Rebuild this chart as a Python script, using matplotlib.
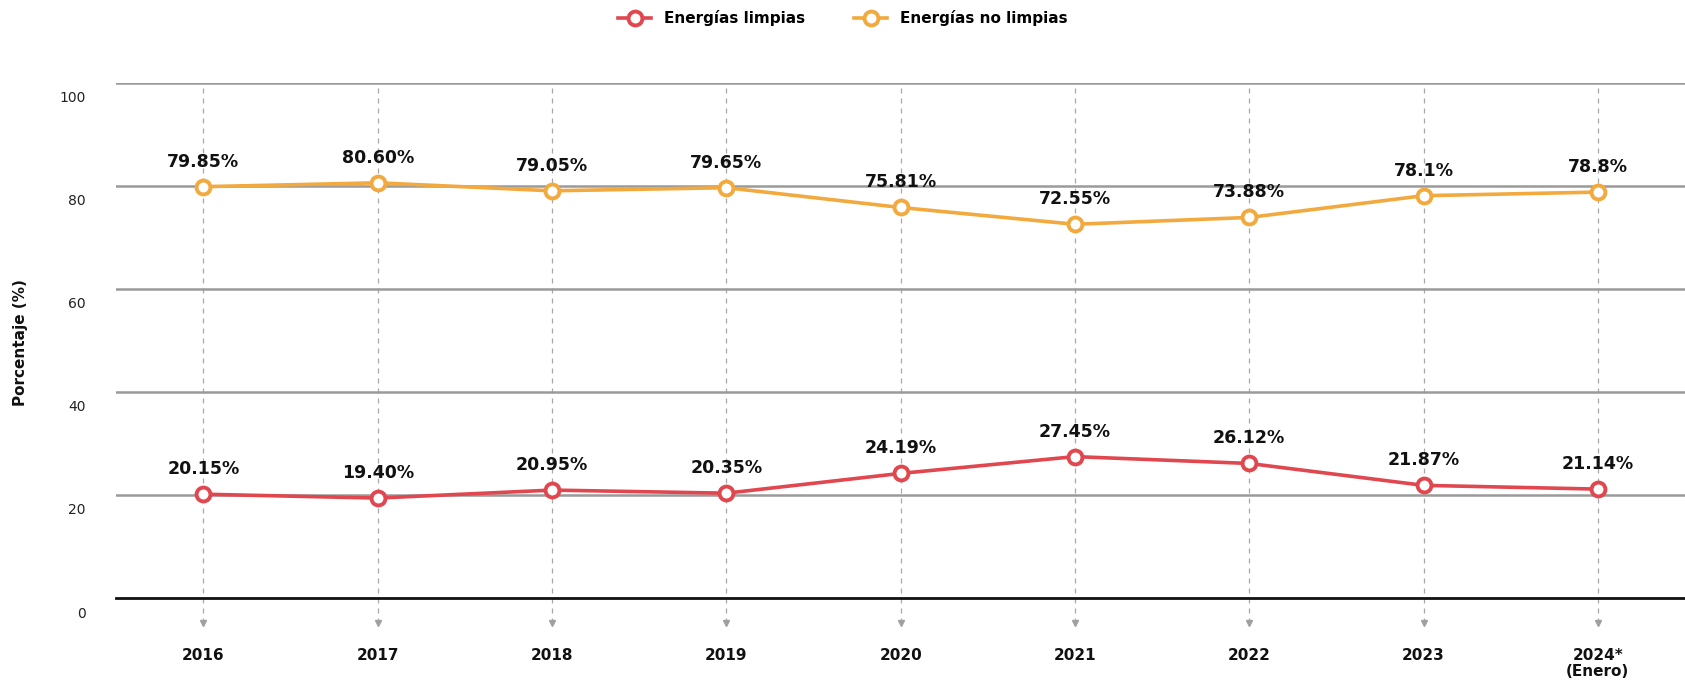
import numpy as np
import matplotlib
matplotlib.use("Agg")
import matplotlib.pyplot as plt
from matplotlib.transforms import ScaledTranslation

# datos
anios = ["2016", "2017", "2018", "2019", "2020", "2021", "2022", "2023", "2024*\n(Enero)"]
limpias = [20.15, 19.40, 20.95, 20.35, 24.19, 27.45, 26.12, 21.87, 21.14]
no_limpias = [79.85, 80.60, 79.05, 79.65, 75.81, 72.55, 73.88, 78.1, 78.8]
etiq_limpias = ["20.15%", "19.40%", "20.95%", "20.35%", "24.19%", "27.45%", "26.12%", "21.87%", "21.14%"]
etiq_no_limpias = ["79.85%", "80.60%", "79.05%", "79.65%", "75.81%", "72.55%", "73.88%", "78.1%", "78.8%"]
yticks = [0, 20, 40, 60, 80, 100]

rojo = "#E0474F"
naranja = "#F2A93E"

plt.rcParams['font.family'] = ['DejaVu Sans']

fig = plt.figure(figsize=(16.85, 6.85), dpi=100)
ax = fig.add_axes([0.069, 0.127, 0.931, 0.752])

x = np.arange(len(anios))
ax.set_xlim(-0.5, len(anios) - 0.5)
ax.set_ylim(0, 100)

# lineas de la grilla
for yv in yticks[1:]:
    ax.axhline(yv, color="#9a9a9a", linewidth=1.8, zorder=1)
ax.axhline(0, color="#111111", linewidth=2, zorder=1, clip_on=False)

# lineas verticales punteadas con flecha
for xi in x:
    ax.plot([xi, xi], [99, -4.6], color="#a8a8a8", linewidth=0.9,
            linestyle=(0, (4, 4)), zorder=0, clip_on=False)
    ax.plot(xi, -4.9, marker="v", color="#a0a0a0", markersize=5, clip_on=False, zorder=0)

# series
ax.plot(x, limpias, color=rojo, linewidth=2.6, marker="o", markersize=10,
        markerfacecolor="white", markeredgecolor=rojo, markeredgewidth=2.8, zorder=3,
        label="Energías limpias")
ax.plot(x, no_limpias, color=naranja, linewidth=2.6, marker="o", markersize=10,
        markerfacecolor="white", markeredgecolor=naranja, markeredgewidth=2.8, zorder=3,
        label="Energías no limpias")

for xi, v, t in zip(x, limpias, etiq_limpias):
    ax.annotate(t, (xi, v), xytext=(0, 18), textcoords="offset points",
                ha="center", va="center", fontsize=12.5, fontweight="bold", color="#111111")
for xi, v, t in zip(x, no_limpias, etiq_no_limpias):
    ax.annotate(t, (xi, v), xytext=(0, 18), textcoords="offset points",
                ha="center", va="center", fontsize=12.5, fontweight="bold", color="#111111")

# ejes
for s in ax.spines.values():
    s.set_visible(False)
ax.set_yticks(yticks)
ax.set_yticklabels([str(t) for t in yticks], fontsize=10, color="#222222")
ax.tick_params(axis="y", length=0, pad=22)
desplazar = ScaledTranslation(0, -0.14, fig.dpi_scale_trans)
for lab in ax.get_yticklabels():
    lab.set_transform(lab.get_transform() + desplazar)

ax.set_xticks(x)
ax.set_xticklabels(anios, fontsize=11, fontweight="bold", color="#111111", va="top", linespacing=1.05)
ax.tick_params(axis="x", length=0, pad=36)

fig.text(0.012, 0.50, "Porcentaje (%)", rotation=90, ha="center", va="center",
         fontsize=11, fontweight="bold", color="#111111")

fig.legend(loc="upper center", bbox_to_anchor=(0.50, 1.005), ncol=2, frameon=False,
           handlelength=2.2, columnspacing=3.2,
           prop={"weight": "bold", "size": 11})

fig.savefig("out.png", dpi=100)
